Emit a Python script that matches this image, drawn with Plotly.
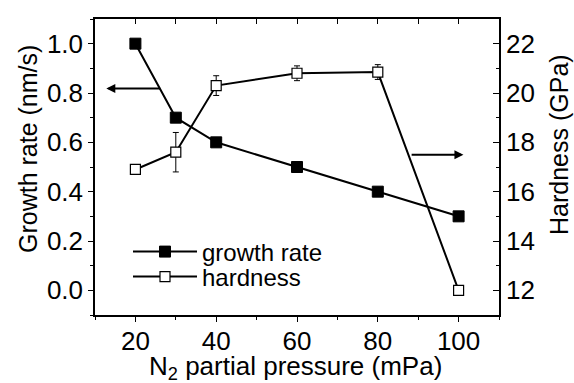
import plotly.graph_objects as go

# Data
pressure = [20, 30, 40, 60, 80, 100]
growth_rate = [1.0, 0.7, 0.6, 0.5, 0.4, 0.3]
hardness = [16.9, 17.6, 20.3, 20.8, 20.85, 12.0]
hardness_err = [0.1, 0.8, 0.4, 0.3, 0.3, 0.1]

FONT = "Liberation Sans, Arial, sans-serif"
W, H = 574, 383
L, R, T, B = 95, 75, 19, 68
pw = W - L - R
ph = H - T - B

fig = go.Figure()
fig.add_trace(go.Scatter(
    x=pressure, y=growth_rate, name="growth rate", mode="lines+markers",
    line=dict(color="black", width=2),
    marker=dict(symbol="square", size=11, color="black", line=dict(color="black", width=1)),
    yaxis="y", xaxis="x", legend="legend"))
fig.add_trace(go.Scatter(
    x=pressure, y=hardness, name="hardness", mode="lines+markers",
    line=dict(color="black", width=2),
    marker=dict(symbol="square", size=10, color="white", line=dict(color="black", width=1.2)),
    error_y=dict(type="data", array=hardness_err, visible=True, color="black", thickness=1, width=3),
    yaxis="y2", xaxis="x", legend="legend2"))
# invisible trace to activate top axis
fig.add_trace(go.Scatter(x=[None], y=[None], xaxis="x2", yaxis="y", showlegend=False))

axis_common = dict(showline=True, linecolor="black", linewidth=1.5, showgrid=False,
                   zeroline=False, tickcolor="black",
                   tickfont=dict(family=FONT, size=26, color="black"))

legend_common = dict(xanchor="left", yanchor="middle", bgcolor="rgba(0,0,0,0)",
                     font=dict(family=FONT, size=24, color="black"), itemwidth=64,
                     tracegroupgap=0)

fig.update_layout(
    width=W, height=H,
    margin=dict(l=L, r=R, t=T, b=B),
    paper_bgcolor="white", plot_bgcolor="white",
    font=dict(family=FONT, color="black"),
    xaxis=dict(range=[10, 110], tickvals=[20, 40, 60, 80, 100], ticks="outside", ticklen=5,
               ticklabelstandoff=-3,
               minor=dict(dtick=10, tick0=0, ticks="outside", ticklen=3, tickcolor="black"),
               **axis_common),
    xaxis2=dict(range=[10, 110], overlaying="x", side="top", tickvals=list(range(20, 110, 10)),
                ticks="inside", ticklen=5, showticklabels=False, **axis_common),
    yaxis=dict(range=[-0.1, 1.1], tickvals=[0.0, 0.2, 0.4, 0.6, 0.8, 1.0], tickformat=".1f",
               ticks="outside", ticklen=5,
               minor=dict(dtick=0.1, tick0=0, ticks="outside", ticklen=3, tickcolor="black"),
               **axis_common),
    yaxis2=dict(range=[11, 23], overlaying="y", side="right", tickvals=[12, 14, 16, 18, 20, 22],
                ticks="inside", ticklen=6,
                minor=dict(dtick=1, tick0=11, ticks="inside", ticklen=3, tickcolor="black"),
                **axis_common),
    showlegend=True,
    legend=dict(x=(128 - L) / pw, y=(H - B - 252) / ph, **legend_common),
    legend2=dict(x=(128 - L) / pw, y=(H - B - 277) / ph, **legend_common),
)

ann = []
ann.append(dict(text="N<sub>2</sub> partial pressure (mPa)", xref="paper", yref="paper",
                x=(295.5 - L) / pw, y=(H - B - 367.5) / ph, xanchor="center", yanchor="middle",
                showarrow=False, font=dict(family=FONT, size=26, color="black")))
ann.append(dict(text="Growth rate (nm/s)", xref="paper", yref="paper",
                x=(28 - L) / pw, y=(H - B - 149) / ph, xanchor="center", yanchor="middle",
                textangle=-90, showarrow=False, font=dict(family=FONT, size=25, color="black")))
ann.append(dict(text="Hardness (GPa)", xref="paper", yref="paper",
                x=(559 - L) / pw, y=(H - B - 145) / ph, xanchor="center", yanchor="middle",
                textangle=-90, showarrow=False, font=dict(family=FONT, size=25, color="black")))
# arrows indicating which axis each curve belongs to
ann.append(dict(x=12.8, y=0.818, ax=26.5, ay=0.818, xref="x", yref="y", axref="x", ayref="y",
                text="", showarrow=True, arrowhead=2, arrowsize=0.9, arrowwidth=2, arrowcolor="black"))
ann.append(dict(x=101.2, y=17.5, ax=88, ay=17.5, xref="x", yref="y2", axref="x", ayref="y2",
                text="", showarrow=True, arrowhead=2, arrowsize=0.9, arrowwidth=2, arrowcolor="black"))
fig.update_layout(annotations=ann)

fig.write_html("out.html")
